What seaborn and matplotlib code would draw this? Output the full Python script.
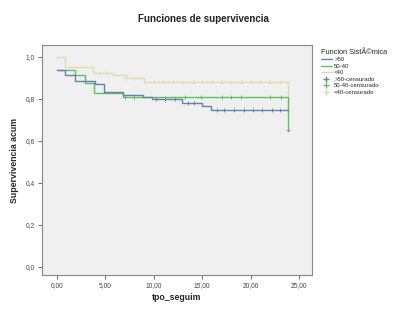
import numpy as np
import pandas as pd
import seaborn as sns
import matplotlib.pyplot as plt
from matplotlib.lines import Line2D

# Kaplan-Meier steps
t_mayor50 = [0, 0.8, 1.9, 3.9, 4.9, 6.8, 8.9, 9.8, 12.9, 15.0, 15.9, 23.9]
s_mayor50 = [0.94, 0.915, 0.887, 0.87, 0.835, 0.82, 0.808, 0.80, 0.78, 0.767, 0.748, 0.748]

t_50_40 = [0, 1.9, 2.9, 3.8, 6.8, 23.9, 23.9]
s_50_40 = [0.94, 0.915, 0.875, 0.83, 0.808, 0.808, 0.65]

t_menor40 = [0, 0.85, 3.75, 5.8, 7.2, 9.0, 23.9, 23.9]
s_menor40 = [1.0, 0.954, 0.922, 0.914, 0.898, 0.882, 0.882, 0.75]

# censored observations
ct_mayor50 = [10.2, 11.2, 12.2, 13.5, 14.2, 16.5, 17.3, 18.3, 19.3, 20.2, 21.2, 22.2, 23.0]
cs_mayor50 = [0.80, 0.80, 0.80, 0.78, 0.78] + [0.748] * 8

ct_50_40 = [7.0, 8.0, 13.2, 14.9, 17.0, 18.0, 19.0, 22.0, 23.1, 23.9]
cs_50_40 = [0.808] * 9 + [0.65]

ct_menor40 = [4.3, 5.1, 7.0, 8.0, 10, 11, 12, 13, 14, 15, 16, 17, 18, 19, 20, 21, 22, 23]
cs_menor40 = [0.922, 0.922, 0.898, 0.898] + [0.882] * 14

grupos = ['>50', '50-40', '<40']
colores = {'>50': '#6682a6', '50-40': '#62bd62', '<40': '#deddaa'}

curvas = pd.concat([
    pd.DataFrame({'t': t_mayor50, 's': s_mayor50, 'grupo': '>50'}),
    pd.DataFrame({'t': t_50_40, 's': s_50_40, 'grupo': '50-40'}),
    pd.DataFrame({'t': t_menor40, 's': s_menor40, 'grupo': '<40'}),
])
censura = pd.concat([
    pd.DataFrame({'t': ct_mayor50, 's': cs_mayor50, 'grupo': '>50'}),
    pd.DataFrame({'t': ct_50_40, 's': cs_50_40, 'grupo': '50-40'}),
    pd.DataFrame({'t': ct_menor40, 's': cs_menor40, 'grupo': '<40'}),
])

sns.set_style('white')
plt.rcParams['font.family'] = ['Liberation Sans', 'DejaVu Sans']

fig = plt.figure(figsize=(4.06, 3.21), dpi=100)
ax = fig.add_axes([0.1034, 0.1433, 0.665, 0.7165])
ax.set_facecolor('#f0f0f0')

for g in grupos[::-1]:
    d = curvas[curvas.grupo == g]
    sns.lineplot(data=d, x='t', y='s', color=colores[g], drawstyle='steps-post',
                 estimator=None, sort=False, linewidth=1.0, ax=ax, legend=False)
for g in grupos[::-1]:
    d = censura[censura.grupo == g]
    sns.scatterplot(data=d, x='t', y='s', color=colores[g], marker='+', s=9,
                    linewidth=0.7, ax=ax, legend=False)

ax.set_xlim(-1.55, 26.34)
ax.set_ylim(-0.038, 1.057)
ax.set_xticks([0, 5, 10, 15, 20, 25])
ax.set_xticklabels(['0,00', '5,00', '10,00', '15,00', '20,00', '25,00'])
ax.set_yticks([0, 0.2, 0.4, 0.6, 0.8, 1.0])
ax.set_yticklabels(['0,0', '0,2', '0,4', '0,6', '0,8', '1,0'])
ax.tick_params(axis='both', labelsize=4.8, length=3, width=0.6, color='#555555',
               labelcolor='#444444', pad=2, direction='out', left=True, bottom=True)
for sp in ax.spines.values():
    sp.set_color('#888888')
    sp.set_linewidth(0.8)

ax.set_xlabel('tpo_seguim', fontsize=6.3, fontweight='bold', labelpad=3)
ax.set_ylabel('Supervivencia acum', fontsize=6.3, fontweight='bold', labelpad=5)
fig.text(0.5, 0.94, 'Funciones de supervivencia', ha='center', va='center',
         fontsize=7, fontweight='bold', color='#222222')

handles = [Line2D([], [], color=colores[g], lw=1) for g in grupos]
handles += [Line2D([], [], color=colores[g], lw=0, marker='+', markersize=4) for g in grupos]
labels = grupos + [g + '-censurado' for g in grupos]
leg = fig.legend(handles, labels, title='Funcion SistÃ©mica', loc='upper left',
                 bbox_to_anchor=(0.785, 0.855), frameon=False, fontsize=4.3,
                 title_fontsize=5.3, handlelength=1.8, handletextpad=0.4,
                 labelspacing=0.22, borderaxespad=0)
leg._legend_box.align = 'left'

fig.savefig('out.png', dpi=100)
